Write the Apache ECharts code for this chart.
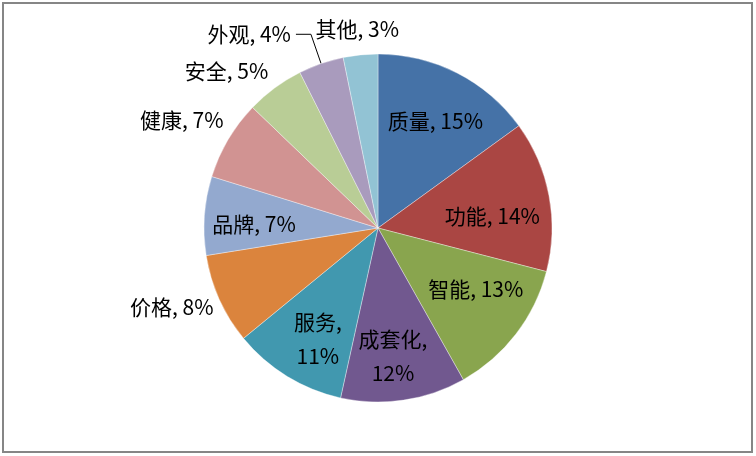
<!DOCTYPE html>
<html>
<head>
<meta charset="utf-8">
<script src="https://cdn.jsdelivr.net/npm/echarts@6/dist/echarts.min.js"></script>
<style>
html, body {margin: 0; padding: 0; background: #fff;}
#main {width: 756px; height: 456px;}
</style>
</head>
<body>
<div id="main"></div>
<script>
// 数据
var categories = ['质量', '功能', '智能', '成套化', '服务', '价格', '品牌', '健康', '安全', '外观', '其他'];
var shares = [15.0, 14.0, 12.8, 11.6, 10.6, 8.4, 7.3, 7.4, 5.4, 4.2, 3.2];
var colors = ['#4572A7', '#AA4643', '#89A54E', '#71588F', '#4198AF', '#DB843D',
    '#93A9CF', '#D19392', '#B9CD96', '#A99BBD', '#92C3D4'];

// 标签位置：离圆心距离(px)、相对扇区中线的偏转(度)
var labelDist = [121, 115, 115, 129, 126, 221, 124, 224, 218, 0, 200];
var labelTurn = [1.3, 4.6, -5.8, 1.8, -3, 3.2, -2, -1.7, -7.6, 0, -0.2];
var twoLine = ['成套化', '服务'];
var leaderName = '外观';

var cx = 378, cy = 228, R = 174;
var total = shares.reduce(function (a, b) { return a + b; }, 0);

var data = categories.map(function (name, i) {
    var item = {name: name, value: shares[i], itemStyle: {color: colors[i]}};
    if (name === leaderName) {
        item.label = {position: 'outside', distanceToLabelLine: 5, padding: [0, 0, 10, 0]};
        item.labelLine = {show: true, length: 31, length2: 15, lineStyle: {color: '#000', width: 1}};
    }
    return item;
});

var chart = echarts.init(document.getElementById('main'));
chart.setOption({
    animation: false,
    backgroundColor: '#fff',
    graphic: [{
        type: 'rect',
        shape: {x: 3, y: 3, width: 749, height: 449},
        style: {fill: null, stroke: '#868686', lineWidth: 2},
        silent: true
    }],
    series: [{
        type: 'pie',
        center: [cx, cy],
        radius: [0, R],
        startAngle: 90,
        clockwise: true,
        avoidLabelOverlap: false,
        itemStyle: {borderColor: 'rgba(255,255,255,0.6)', borderWidth: 0.6},
        label: {
            show: true,
            position: 'inside',
            color: '#000',
            fontSize: 21,
            fontFamily: '"Noto Sans CJK SC", "Microsoft YaHei", sans-serif',
            lineHeight: 34,
            formatter: function (p) {
                var pct = Math.round(p.value / total * 100) + '%';
                return twoLine.indexOf(p.name) >= 0 ? p.name + ',\n' + pct : p.name + ', ' + pct;
            }
        },
        labelLine: {show: false},
        labelLayout: function (p) {
            var i = p.dataIndex;
            if (categories[i] === leaderName) return {};
            var r = p.labelRect;
            var lx = r.x + r.width / 2, ly = r.y + r.height / 2;
            var theta = Math.atan2(lx - cx, cy - ly) + labelTurn[i] * Math.PI / 180;
            return {
                x: cx + labelDist[i] * Math.sin(theta),
                y: cy - labelDist[i] * Math.cos(theta),
                align: 'center',
                verticalAlign: 'middle'
            };
        },
        data: data
    }]
});
</script>
</body>
</html>
